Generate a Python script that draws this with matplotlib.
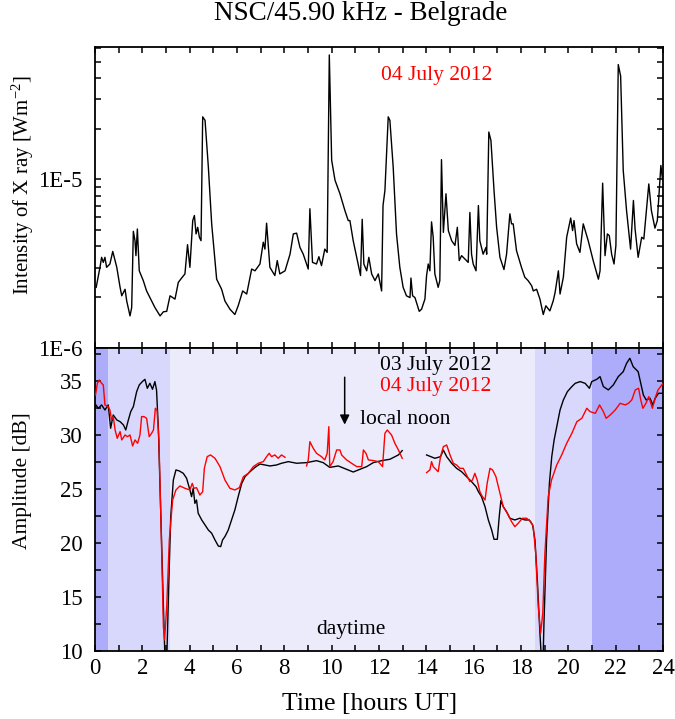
import numpy as np
import matplotlib
matplotlib.use("Agg")
import matplotlib.pyplot as plt
from matplotlib.ticker import FixedLocator, NullFormatter, LogLocator, MultipleLocator

# ---------------- data ----------------
xray_t = [0.05, 0.21, 0.28, 0.35, 0.42, 0.49, 0.63, 0.75, 0.92, 1.06, 1.13, 1.27, 1.34, 1.48, 1.55,
          1.62, 1.69, 1.73, 1.79, 1.87, 2.04, 2.18, 2.32, 2.53, 2.75, 2.89, 3.03, 3.17, 3.38, 3.52,
          3.66, 3.80, 3.91, 4.01, 4.13, 4.20, 4.27, 4.34, 4.41, 4.48, 4.55, 4.65, 4.79, 4.93, 5.14,
          5.35, 5.49, 5.70, 5.91, 6.05, 6.24, 6.41, 6.62, 6.76, 6.97, 7.11, 7.18, 7.25, 7.39, 7.60,
          7.70, 7.81, 8.03, 8.24, 8.38, 8.52, 8.66, 8.80, 9.01, 9.08, 9.19, 9.36, 9.46, 9.57, 9.71,
          9.81, 9.90, 10.00, 10.14, 10.35, 10.56, 10.70, 10.77, 10.91, 11.06, 11.22, 11.29, 11.36,
          11.48, 11.57, 11.69, 11.83, 11.97, 12.11, 12.17, 12.25, 12.39, 12.46, 12.60, 12.74, 12.88,
          13.02, 13.16, 13.31, 13.35, 13.42, 13.52, 13.70, 13.80, 13.94, 14.01, 14.08, 14.15, 14.22,
          14.29, 14.36, 14.50, 14.57, 14.64, 14.72, 14.83, 14.93, 15.07, 15.21, 15.31, 15.39, 15.49,
          15.70, 15.77, 15.84, 15.91, 15.98, 16.10, 16.20, 16.26, 16.40, 16.52, 16.55, 16.64, 16.73,
          16.86, 16.97, 17.11, 17.28, 17.39, 17.53, 17.60, 17.67, 17.81, 18.02, 18.16, 18.30, 18.45,
          18.52, 18.66, 18.80, 18.94, 19.05, 19.22, 19.36, 19.44, 19.58, 19.65, 19.79, 19.93, 20.10,
          20.18, 20.24, 20.35, 20.49, 20.63, 20.84, 21.05, 21.27, 21.34, 21.45, 21.55, 21.65, 21.73,
          21.83, 21.93, 22.01, 22.11, 22.21, 22.32, 22.46, 22.63, 22.75, 22.82, 22.95, 23.10, 23.19,
          23.30, 23.40, 23.51, 23.66, 23.76, 23.84, 23.91, 23.98]
xray_flux = [2.29e-6, 3.01e-6, 3.45e-6, 3.22e-6, 3.45e-6, 3.01e-6, 3.15e-6, 3.74e-6, 3.01e-6, 2.29e-6,
             2.04e-6, 2.23e-6, 1.90e-6, 1.55e-6, 1.74e-6, 4.92e-6, 4.33e-6, 3.53e-6, 5.08e-6, 2.87e-6,
             2.51e-6, 2.18e-6, 1.99e-6, 1.74e-6, 1.55e-6, 1.64e-6, 1.65e-6, 2.04e-6, 1.95e-6, 2.45e-6,
             2.60e-6, 2.75e-6, 4.10e-6, 3.01e-6, 5.70e-6, 6.11e-6, 4.75e-6, 5.20e-6, 4.54e-6, 4.33e-6,
             2.35e-5, 2.24e-5, 1.18e-5, 5.45e-6, 2.56e-6, 2.23e-6, 1.90e-6, 1.70e-6, 1.58e-6, 1.78e-6,
             2.18e-6, 2.09e-6, 2.94e-6, 2.87e-6, 3.15e-6, 4.24e-6, 3.86e-6, 5.50e-6, 3.01e-6, 2.69e-6,
             3.30e-6, 2.75e-6, 2.87e-6, 3.60e-6, 4.75e-6, 4.80e-6, 3.95e-6, 3.60e-6, 2.94e-6, 6.70e-6,
             3.22e-6, 3.15e-6, 3.48e-6, 3.08e-6, 3.86e-6, 3.69e-6, 5.47e-5, 1.30e-5, 9.90e-6, 8.22e-6,
             6.53e-6, 5.70e-6, 5.70e-6, 4.33e-6, 3.45e-6, 2.69e-6, 5.80e-6, 3.15e-6, 2.87e-6, 3.45e-6,
             2.75e-6, 2.51e-6, 2.75e-6, 2.18e-6, 7.00e-6, 8.60e-6, 2.35e-5, 2.24e-5, 1.18e-5, 4.75e-6,
             3.01e-6, 2.29e-6, 2.04e-6, 1.99e-6, 2.60e-6, 2.04e-6, 1.99e-6, 1.65e-6, 1.70e-6, 1.95e-6,
             2.69e-6, 3.15e-6, 2.87e-6, 5.60e-6, 4.54e-6, 2.75e-6, 2.29e-6, 2.51e-6, 1.31e-5, 4.85e-6,
             8.22e-6, 4.97e-6, 4.33e-6, 4.06e-6, 5.20e-6, 3.30e-6, 3.53e-6, 3.30e-6, 3.22e-6, 6.37e-6,
             3.60e-6, 3.15e-6, 2.87e-6, 7.00e-6, 4.33e-6, 3.60e-6, 3.95e-6, 3.60e-6, 1.91e-5, 1.70e-5,
             8.60e-6, 5.20e-6, 3.45e-6, 2.92e-6, 3.60e-6, 6.25e-6, 5.45e-6, 5.45e-6, 3.78e-6, 3.01e-6,
             2.63e-6, 2.51e-6, 2.34e-6, 2.18e-6, 2.23e-6, 1.95e-6, 1.58e-6, 1.78e-6, 1.66e-6, 1.90e-6,
             2.13e-6, 2.87e-6, 2.09e-6, 2.63e-6, 4.54e-6, 5.90e-6, 4.97e-6, 5.70e-6, 4.15e-6, 3.69e-6,
             5.45e-6, 4.33e-6, 3.30e-6, 2.56e-6, 2.87e-6, 9.50e-6, 3.53e-6, 4.75e-6, 4.64e-6, 3.60e-6,
             3.15e-6, 4.06e-6, 4.80e-5, 4.10e-5, 1.13e-5, 6.53e-6, 3.86e-6, 7.50e-6, 5.08e-6, 3.45e-6,
             4.54e-6, 4.43e-6, 6.53e-6, 9.40e-6, 6.53e-6, 5.14e-6, 5.70e-6, 8.60e-6, 1.21e-5, 1.00e-5]

nan = float("nan")
july03_t = [0.0, 0.04, 0.14, 0.28, 0.42, 0.56, 0.66, 0.77, 0.92, 1.06, 1.20, 1.30, 1.41, 1.51, 1.62,
            1.76, 1.87, 2.00, 2.11, 2.21, 2.32, 2.43, 2.53, 2.60, 2.68, 2.77, 2.89, 2.96, 3.03, 3.11,
            3.20, 3.31, 3.42, 3.56, 3.73, 3.87, 4.01, 4.08, 4.15, 4.22, 4.29, 4.36, 4.51, 4.65, 4.79,
            4.93, 5.07, 5.21, 5.31, 5.39, 5.49, 5.63, 5.77, 5.91, 6.05, 6.20, 6.34, 6.55, 6.76, 6.97,
            7.18, 7.39, 7.67, 7.88, 8.17, 8.52, 8.94, 9.36, 9.64, 9.92, 10.28, 10.63, 10.91, 11.20,
            11.48, 11.76, 12.11, 12.46, 12.82, 12.98, 13.40,
            14.01, 14.19, 14.36, 14.60, 14.72, 14.86, 15.07, 15.28, 15.49, 15.70, 15.91, 16.10, 16.20,
            16.33, 16.48, 16.62, 16.76, 16.86, 17.00, 17.08, 17.15, 17.25, 17.39, 17.53, 17.74, 17.95,
            18.17, 18.35, 18.49, 18.59, 18.69, 18.80, 18.87, 18.93, 18.97, 19.08, 19.20, 19.30, 19.40,
            19.51, 19.65, 19.79, 19.96, 20.15, 20.29, 20.50, 20.71, 20.89, 20.99, 21.20, 21.34, 21.48,
            21.69, 21.90, 22.11, 22.32, 22.46, 22.60, 22.74, 22.95, 23.06, 23.17, 23.29, 23.45, 23.57,
            23.67, 23.81, 24.0]
july03_db = [32.6, 32.78, 32.47, 32.78, 32.31, 32.78, 30.62, 31.85, 31.39, 31.23, 30.93, 30.46, 31.39,
             32.16, 32.62, 34.01, 34.63, 34.94, 35.15, 34.32, 34.78, 34.23, 34.94, 34.17, 30.46, 23.36,
             14.1, 9.0, 9.0, 15.65, 22.44, 25.83, 26.76, 26.67, 26.45, 25.99, 24.91, 24.29, 25.06, 23.67,
             23.98, 22.75, 22.13, 21.67, 21.2, 20.9, 20.28, 19.72, 19.66, 20.28, 20.59, 21.2, 22.13,
             23.06, 24.29, 25.52, 26.14, 26.6, 27.0, 27.31, 27.22, 27.13, 27.22, 27.38, 27.53, 27.38,
             27.44, 27.62, 27.44, 27.0, 27.13, 26.82, 26.57, 26.82, 27.07, 27.44, 27.62, 27.75, 28.15,
             28.55, nan,
             28.15, 27.99, 27.84, 27.99, 28.6, 27.99, 27.38, 26.91, 26.6, 26.14, 25.68, 25.21, 24.75,
             24.29, 23.36, 22.13, 21.2, 20.34, 20.34, 22.44, 23.92, 23.36, 22.9, 22.29, 22.13, 22.29,
             22.13, 22.13, 21.67, 20.28, 16.57, 11.64, 9.0, 9.0, 12.56, 20.28, 25.52, 28.0, 29.54,
             30.77, 32.31, 33.24, 34.01, 34.48, 34.78, 34.94, 34.78, 34.32, 34.94, 35.15, 35.4, 34.48,
             34.17, 34.63, 35.4, 35.86, 36.63, 37.1, 36.32, 35.86, 34.78, 33.7, 33.24, 33.4, 32.78,
             33.4, 33.86, 33.86]

july04_t = [0.02, 0.10, 0.18, 0.28, 0.35, 0.42, 0.56, 0.63, 0.70, 0.77, 0.85, 0.94, 1.06, 1.13, 1.27,
            1.37, 1.48, 1.59, 1.69, 1.80, 1.90, 1.97, 2.07, 2.18, 2.29, 2.39, 2.47, 2.55, 2.62, 2.70,
            2.79, 2.89, 2.94, 3.03, 3.14, 3.28, 3.42, 3.59, 3.80, 4.01, 4.11, 4.18, 4.29, 4.43, 4.55,
            4.62, 4.74, 4.88, 5.07, 5.28, 5.49, 5.70, 5.91, 6.10, 6.27, 6.48, 6.69, 6.90, 7.11, 7.25,
            7.36, 7.46, 7.60, 7.74, 7.88, 8.03, 8.50,
            8.94, 9.01, 9.08, 9.22, 9.36, 9.57, 9.71, 9.81, 9.88, 9.92, 10.06, 10.21, 10.35, 10.42,
            10.63, 10.84, 11.06, 11.27, 11.34, 11.45, 11.55, 11.76, 11.97, 12.15, 12.25, 12.35, 12.53,
            12.67, 12.82, 12.98, 13.40,
            14.01, 14.15, 14.22, 14.29, 14.50, 14.60, 14.72, 14.86, 15.00, 15.14, 15.28, 15.42, 15.56,
            15.70, 15.84, 15.95, 16.05, 16.15, 16.26, 16.37, 16.48, 16.57, 16.69, 16.80, 16.94, 17.11,
            17.25, 17.42, 17.60, 17.74, 17.88, 18.06, 18.24, 18.41, 18.52, 18.62, 18.73, 18.83, 18.92,
            19.01, 19.15, 19.29, 19.51, 19.72, 19.93, 20.15, 20.36, 20.57, 20.78, 20.92, 21.14, 21.32,
            21.48, 21.60, 21.77, 21.98, 22.19, 22.40, 22.54, 22.68, 22.83, 22.97, 23.06, 23.15, 23.28,
            23.40, 23.55, 23.69, 23.79, 23.90, 24.0]
july04_db = [33.7, 34.78, 35.09, 34.78, 34.63, 32.78, 32.62, 32.31, 31.39, 31.7, 30.46, 29.69, 30.31,
             29.54, 30.0, 29.84, 30.0, 28.98, 29.54, 29.23, 30.0, 31.7, 31.7, 31.54, 29.84, 30.15, 30.46,
             32.47, 32.31, 29.54, 21.82, 12.25, 11.02, 14.1, 20.28, 23.98, 24.91, 25.28, 25.06, 24.91,
             25.52, 25.06, 25.12, 24.44, 24.75, 26.91, 27.99, 28.15, 27.84, 27.07, 25.83, 25.06, 24.91,
             25.12, 26.14, 26.45, 27.07, 27.38, 27.53, 27.99, 28.3, 27.99, 28.15, 27.84, 28.15, 27.93, nan,
             27.13, 27.69, 29.38, 28.77, 28.3, 27.99, 27.69, 28.3, 30.77, 27.07, 27.53, 28.61, 28.61,
             28.15, 27.69, 27.38, 27.07, 27.07, 28.61, 28.3, 27.69, 27.63, 27.53, 27.07, 30.15, 30.46,
             30.0, 29.23, 28.61, 27.84, nan,
             26.51, 26.76, 27.53, 27.07, 26.6, 27.99, 28.92, 29.07, 28.15, 27.38, 27.22, 26.91, 26.91,
             26.29, 25.68, 25.83, 26.45, 25.83, 24.75, 24.29, 23.98, 25.52, 26.91, 26.76, 26.14, 24.6,
             23.36, 22.75, 21.98, 21.51, 21.82, 22.29, 22.29, 21.98, 21.51, 19.04, 14.1, 11.64, 13.49,
             19.04, 24.29, 25.83, 27.22, 28.15, 29.23, 30.15, 31.23, 31.54, 32.47, 32.16, 32.0, 32.78,
             32.16, 31.54, 31.85, 32.31, 32.93, 32.78, 32.93, 33.24, 34.17, 34.32, 33.24, 32.47, 32.93,
             33.55, 32.47, 33.55, 34.17, 34.48, 34.78]

# shading bands: (start hour, end hour, colour)
band_start = [0.0, 0.56, 3.17, 18.59, 21.02]
band_end = [0.56, 3.17, 18.59, 21.02, 24.0]
band_color = ["#acacfa", "#d8d8fc", "#ebebfc", "#d8d8fc", "#acacfa"]

x_ticks = list(range(0, 25, 2))
amp_ticks = [10, 15, 20, 25, 30, 35]

# ---------------- figure ----------------
plt.rcParams['font.family'] = ['Liberation Serif', 'DejaVu Serif']
plt.rcParams['mathtext.default'] = 'regular'

W, H = 675, 719
fig = plt.figure(figsize=(W / 100, H / 100), dpi=100)

L, R = 95, 663
T1, B1 = 47, 348
T2, B2 = 348, 651
ax1 = fig.add_axes([L / W, 1 - B1 / H, (R - L) / W, (B1 - T1) / H])
ax2 = fig.add_axes([L / W, 1 - B2 / H, (R - L) / W, (B2 - T2) / H])

for ax in (ax1, ax2):
    for s in ax.spines.values():
        s.set_linewidth(1.3)
    ax.tick_params(which='both', direction='in', top=True, right=True, length=4.5, width=1.1,
                   labelsize=16.5)
    ax.set_xlim(0, 24)
    ax.xaxis.set_major_locator(MultipleLocator(2))
    ax.xaxis.set_minor_locator(MultipleLocator(1))

# top panel
ax1.plot(xray_t, xray_flux, color='black', lw=1.0)
ax1.set_yscale('log')
ax1.set_ylim(1e-6, 6.1e-5)
ax1.yaxis.set_major_locator(FixedLocator([1e-6, 1e-5]))
ax1.yaxis.set_minor_locator(LogLocator(base=10, subs=np.arange(2, 10)))
ax1.yaxis.set_minor_formatter(NullFormatter())
ax1.set_yticklabels(['1E-6', '1E-5'])
ax1.tick_params(axis='y', which='major', pad=9)
ax1.tick_params(axis='x', labelbottom=False)
ax1.text(0.602, 0.905, '04 July 2012', color='red', fontsize=15.5, transform=ax1.transAxes,
         ha='center', va='center')

# bottom panel
for s0, s1, c in zip(band_start, band_end, band_color):
    ax2.axvspan(s0, s1, color=c, lw=0, zorder=0)
ax2.plot(july03_t, july03_db, color='black', lw=1.0, zorder=3)
ax2.plot(july04_t, july04_db, color='red', lw=1.0, zorder=4)
ax2.set_ylim(10, 38.05)
ax2.yaxis.set_major_locator(FixedLocator(amp_ticks))
ax2.yaxis.set_minor_locator(MultipleLocator(2.5))
ax2.set_xticks(x_ticks)
ax2.tick_params(axis='y', which='major', pad=9)
ax2.tick_params(axis='x', which='major', pad=5)

ax2.text(12.05, 36.45, '03 July 2012', color='black', fontsize=15.5, ha='left', va='center')
ax2.text(12.05, 34.45, '04 July 2012', color='red', fontsize=15.5, ha='left', va='center')
ax2.text(11.2, 31.45, 'local noon', color='black', fontsize=15.5, ha='left', va='center')
ax2.annotate('', xy=(10.55, 30.7), xytext=(10.55, 35.6),
             arrowprops=dict(arrowstyle='-|>', color='black', lw=1.1, mutation_scale=14))
ax2.text(10.8, 12.0, 'daytime', color='black', fontsize=15.5, ha='center', va='center')

fig.text(361 / W, 1 - 14 / H, 'NSC/45.90 kHz - Belgrade', fontsize=19.5, ha='center', va='center')
fig.text(370 / W, 1 - 704 / H, 'Time [hours UT]', fontsize=18.5, ha='center', va='center')
fig.text(23 / W, 1 - 185 / H, 'Intensity of X ray [Wm$^{-2}$]', fontsize=15, rotation=90,
         ha='center', va='center')
fig.text(23 / W, 1 - 481 / H, 'Amplitude [dB]', fontsize=15.5, rotation=90, ha='center', va='center')

fig.savefig('out.png', dpi=100)
